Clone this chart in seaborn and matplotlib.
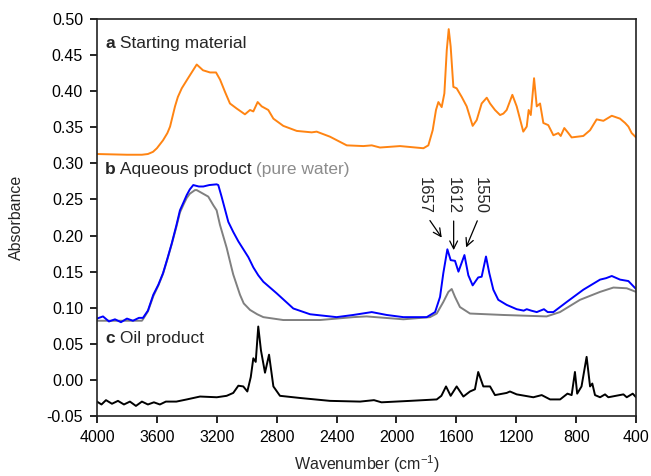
import matplotlib
matplotlib.use("Agg")
from matplotlib import pyplot as plt
import seaborn as sns
import pandas as pd

# a: starting material (orange)
start_wn = [4000, 3800, 3700, 3660, 3626, 3600, 3559, 3530, 3512, 3479, 3460, 3434, 3392, 3334, 3292, 3245, 3205,
            3178, 3145, 3112, 3067, 3012, 2978, 2956, 2927, 2900, 2856, 2822, 2756, 2666, 2566, 2533, 2444, 2332,
            2221, 2165, 2110, 1976, 1820, 1787, 1758, 1736, 1720, 1698, 1680, 1664, 1651, 1638, 1620,
            1598, 1564, 1531, 1491, 1464, 1431, 1397, 1375, 1342, 1308, 1286, 1264, 1226, 1197, 1153,
            1130, 1117, 1103, 1081, 1063, 1041, 1019, 986, 952, 919, 903, 879, 852, 830, 752, 707,
            663, 618, 562, 507, 473, 451, 429, 400]
start_abs = [0.313, 0.312, 0.312, 0.313, 0.316, 0.321, 0.332, 0.342, 0.351, 0.379, 0.392, 0.404, 0.418, 0.437, 0.429, 0.426, 0.426,
             0.416, 0.399, 0.383, 0.376, 0.368, 0.374, 0.372, 0.385, 0.379, 0.374, 0.362, 0.352, 0.345, 0.343, 0.344, 0.337, 0.325,
             0.324, 0.325, 0.322, 0.324, 0.321, 0.325, 0.346, 0.374, 0.385, 0.378, 0.397, 0.457, 0.486, 0.462, 0.406,
             0.404, 0.392, 0.379, 0.352, 0.360, 0.383, 0.391, 0.383, 0.374, 0.367, 0.369, 0.374, 0.395, 0.379, 0.344,
             0.351, 0.374, 0.367, 0.418, 0.379, 0.383, 0.356, 0.353, 0.339, 0.342, 0.338, 0.349, 0.342, 0.336, 0.338, 0.346,
             0.361, 0.359, 0.366, 0.362, 0.356, 0.351, 0.342, 0.336]

# b: aqueous product (blue)
aq_wn = [4000, 3960, 3920, 3880, 3840, 3800, 3760, 3720, 3693, 3660, 3624, 3590, 3559, 3530, 3501, 3470, 3446,
         3420, 3401, 3380, 3357, 3320, 3290, 3250, 3201, 3190, 3168, 3123, 3090, 3056, 2989, 2956, 2923, 2889,
         2800, 2689, 2577, 2444, 2400, 2289, 2165, 2065, 1954, 1798, 1742, 1709, 1687, 1660, 1638, 1609, 1586,
         1546, 1520, 1491, 1454, 1431, 1402, 1380, 1353, 1320, 1264, 1197, 1150, 1130, 1100, 1063,
         1015, 990, 952, 863, 752, 640, 600, 562, 507, 451, 400]
aq_abs = [0.085, 0.088, 0.081, 0.084, 0.080, 0.085, 0.082, 0.086, 0.086, 0.096, 0.118, 0.132, 0.148, 0.168, 0.189, 0.214, 0.235,
          0.247, 0.256, 0.264, 0.270, 0.268, 0.268, 0.270, 0.271, 0.270, 0.254, 0.219, 0.205, 0.192, 0.170, 0.156, 0.145, 0.136,
          0.120, 0.099, 0.091, 0.088, 0.087, 0.090, 0.094, 0.090, 0.087, 0.087, 0.094, 0.115, 0.148, 0.181, 0.166, 0.165, 0.150,
          0.173, 0.145, 0.131, 0.142, 0.143, 0.171, 0.148, 0.125, 0.111, 0.104, 0.098, 0.096, 0.098, 0.096, 0.094,
          0.098, 0.094, 0.094, 0.108, 0.125, 0.139, 0.141, 0.144, 0.139, 0.137, 0.126]

# b: pure water (grey)
water_wn = [4000, 3700, 3693, 3660, 3624, 3590, 3559, 3530, 3501, 3470, 3446, 3420, 3401, 3380, 3346, 3334, 3257,
            3223, 3201, 3179, 3134, 3101, 3090, 3045, 3020, 2978, 2930, 2889, 2756, 2511, 2289, 2200, 1954, 1776,
            1731, 1687, 1653, 1631, 1609, 1576, 1509, 1286, 997, 908, 774, 640, 551, 462, 400]
water_abs = [0.082, 0.082, 0.084, 0.095, 0.116, 0.131, 0.147, 0.167, 0.188, 0.212, 0.232, 0.244, 0.252, 0.258, 0.263, 0.263, 0.254,
             0.242, 0.235, 0.215, 0.183, 0.155, 0.146, 0.118, 0.106, 0.097, 0.091, 0.087, 0.083, 0.083, 0.087, 0.088, 0.084, 0.087,
             0.092, 0.108, 0.122, 0.126, 0.115, 0.101, 0.092, 0.090, 0.088, 0.094, 0.111, 0.122, 0.128, 0.127, 0.122]

# c: oil product (black)
oil_wn = [4000, 3970, 3940, 3900, 3860, 3820, 3780, 3740, 3700, 3660, 3620, 3580, 3540, 3470, 3400,
          3312, 3200, 3134, 3090, 3056, 3023, 2996, 2973, 2956, 2940, 2923, 2905, 2878, 2851, 2822,
          2778, 2644, 2444, 2243, 2150, 2100, 1909, 1731, 1700, 1669, 1638, 1598, 1553, 1509, 1476,
          1454, 1420, 1375, 1342, 1264, 1242, 1197, 1086, 1030, 974, 907, 858, 830, 808, 793,
          764, 730, 707, 692, 674, 640, 607, 585, 484, 462, 422, 400]
oil_abs = [-0.030, -0.034, -0.028, -0.033, -0.029, -0.034, -0.030, -0.036, -0.030, -0.034, -0.031, -0.034, -0.030, -0.030, -0.027,
           -0.023, -0.024, -0.022, -0.018, -0.008, -0.009, -0.016, 0.004, 0.030, 0.025, 0.074, 0.041, 0.010, 0.035, -0.009,
           -0.022, -0.025, -0.029, -0.030, -0.028, -0.031, -0.029, -0.027, -0.022, -0.009, -0.022, -0.009, -0.023, -0.016, -0.013,
           0.011, -0.009, -0.009, -0.021, -0.018, -0.016, -0.020, -0.024, -0.021, -0.027, -0.027, -0.019, -0.021, 0.011, -0.019,
           -0.009, 0.032, -0.009, -0.005, -0.021, -0.024, -0.020, -0.024, -0.020, -0.024, -0.019, -0.024]

peak_labels = ["1657", "1612", "1550"]
peak_text_wn = [1816, 1622, 1442]
peak_tail_wn = [1787, 1618, 1453]
peak_head_wn = [1687, 1618, 1542]
peak_head_abs = [0.194, 0.176, 0.180]

sns.set_style("ticks")
plt.rcParams['font.family'] = ['Liberation Sans', 'DejaVu Sans']
plt.rcParams['mathtext.default'] = 'regular'

fig = plt.figure(figsize=(6.51, 4.76), dpi=100)
ax = fig.add_axes([0.149, 0.126, 0.828, 0.834])

curves = [(start_wn, start_abs, '#ff8412'),
          (water_wn, water_abs, '#808080'),
          (aq_wn, aq_abs, '#0000ff'),
          (oil_wn, oil_abs, 'black')]
for wn, ab, col in curves:
    df = pd.DataFrame({'wn': wn, 'abs': ab})
    sns.lineplot(data=df, x='wn', y='abs', ax=ax, color=col, lw=1.4, estimator=None, sort=False)

ax.set_xlim(4000, 400)
ax.set_ylim(-0.05, 0.50)
ax.set_xticks([4000, 3600, 3200, 2800, 2400, 2000, 1600, 1200, 800, 400])
ax.set_yticks([-0.05, 0.00, 0.05, 0.10, 0.15, 0.20, 0.25, 0.30, 0.35, 0.40, 0.45, 0.50])
ax.yaxis.set_major_formatter(plt.FormatStrFormatter('%.2f'))
ax.tick_params(direction='out', length=5, width=1.2, labelsize=11.5, colors='black', pad=5,
               top=False, right=False)
for s in ax.spines.values():
    s.set_linewidth(1.2)
    s.set_color('#222222')
ax.set_xlabel('Wavenumber (cm$^{-1}$)', fontsize=11.5, labelpad=6)
ax.set_ylabel('Absorbance', fontsize=11.5, labelpad=16)

# panel labels
for yfrac, letter, rest, extra in [(0.939, 'a', ' Starting material', None),
                                   (0.620, 'b', ' Aqueous product', ' (pure water)'),
                                   (0.196, 'c', ' Oil product', None)]:
    t1 = ax.text(0.015, yfrac, letter, transform=ax.transAxes, fontsize=12.5, fontweight='bold', va='center')
    t2 = ax.annotate(rest, xy=(1, 0), xycoords=t1, fontsize=12.5, va='bottom')
    if extra:
        ax.annotate(extra, xy=(1, 0), xycoords=t2, fontsize=12.5, va='bottom', color='#8c8c8c')

for lab, twn, tail, head, hab in zip(peak_labels, peak_text_wn, peak_tail_wn, peak_head_wn, peak_head_abs):
    ax.text(twn, 0.256, lab, rotation=270, ha='center', va='center', fontsize=12)
    ax.annotate('', xy=(head, hab), xytext=(tail, 0.224),
                arrowprops=dict(arrowstyle='->', color='black', lw=0.9, mutation_scale=14))

fig.savefig('out.png', dpi=100)
